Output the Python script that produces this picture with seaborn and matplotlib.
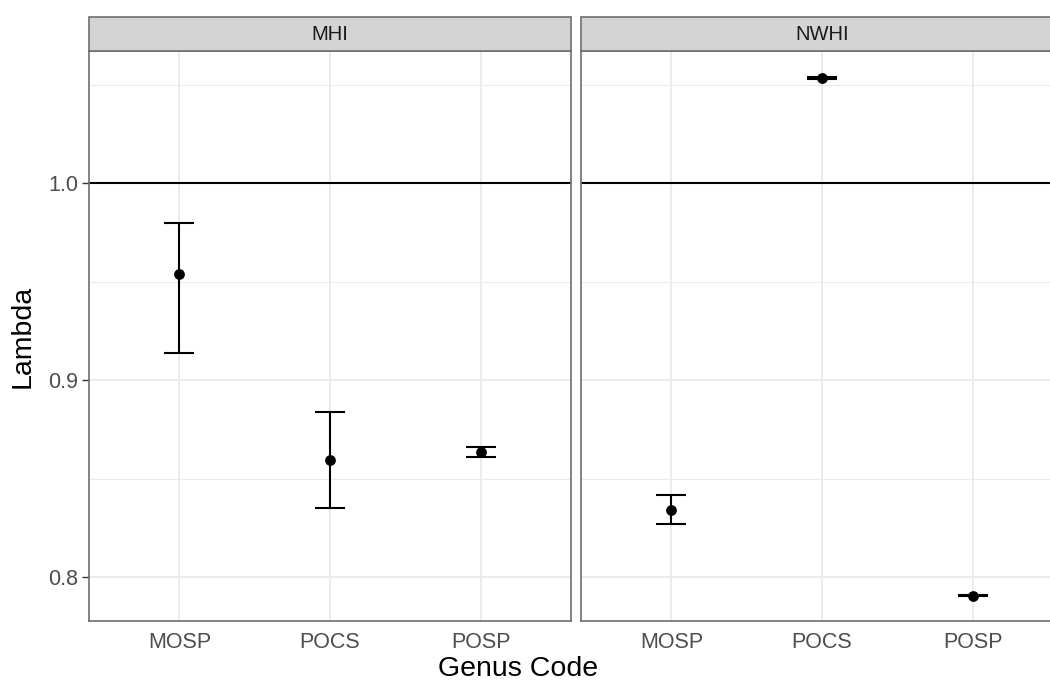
import numpy as np
import pandas as pd
import matplotlib
matplotlib.use("Agg")
import matplotlib.pyplot as plt
from matplotlib.patches import Rectangle
from matplotlib.ticker import MultipleLocator
import seaborn as sns

# ---- data ----
regions = ["MHI", "MHI", "MHI", "NWHI", "NWHI", "NWHI"]
genus = ["MOSP", "POCS", "POSP", "MOSP", "POCS", "POSP"]
lam = [0.9538, 0.8597, 0.8636, 0.8344, 1.0534, 0.7907]
lower = [0.9137, 0.8353, 0.8611, 0.8273, 1.0530, 0.7905]
upper = [0.9800, 0.8838, 0.8661, 0.8417, 1.0538, 0.7909]
categories = ["MOSP", "POCS", "POSP"]
panels = ["MHI", "NWHI"]

df = pd.DataFrame({"Region": regions, "Genus": genus, "Lambda": lam,
                   "lo": lower, "hi": upper})

sns.set_theme(style="white")
plt.rcParams["font.family"] = ["Liberation Sans", "DejaVu Sans"]

W, H = 1050, 681
fig = plt.figure(figsize=(W / 100, H / 100), dpi=100)

pw = 482
lefts = [89, 581]
top, bottom = 51, 621
border = "#6E6E6E"
for i, reg in enumerate(panels):
    ax = fig.add_axes([lefts[i] / W, (H - bottom) / H, pw / W, (bottom - top) / H])
    sub = df[df["Region"] == reg].copy()
    sub["Genus"] = pd.Categorical(sub["Genus"], categories=categories)
    sub = sub.sort_values("Genus")
    xs = np.arange(len(categories))
    ax.set_xlim(-0.6, len(categories) - 0.4)
    ax.set_ylim(0.7778, 1.0672)
    ax.yaxis.set_major_locator(MultipleLocator(0.1))
    ax.yaxis.set_minor_locator(MultipleLocator(0.05))
    ax.set_axisbelow(True)
    ax.grid(which="major", axis="both", color="#EBEBEB", lw=1.4)
    ax.grid(which="minor", axis="y", color="#EBEBEB", lw=0.8)
    ax.axhline(1.0, color="black", lw=1.5, zorder=2)
    ax.errorbar(xs, sub["Lambda"].values,
                yerr=[sub["Lambda"].values - sub["lo"].values,
                      sub["hi"].values - sub["Lambda"].values],
                fmt="none", ecolor="black", elinewidth=1.5, capsize=11,
                capthick=1.5, zorder=3)
    sns.scatterplot(x=xs, y=sub["Lambda"].values, ax=ax, color="black",
                    s=60, edgecolor="black", linewidth=0, zorder=4)
    ax.set_xticks(xs)
    ax.set_xticklabels(categories)
    ax.tick_params(axis="x", which="major", length=5, width=1, color="#333333",
                   labelsize=15.5, labelcolor="#4D4D4D", pad=3)
    ax.tick_params(axis="y", which="major", length=5, width=1, color="#333333",
                   labelsize=15.5, labelcolor="#4D4D4D", pad=3,
                   left=(i == 0), labelleft=(i == 0))
    ax.tick_params(axis="y", which="minor", length=0)
    ax.set_yticks([0.8, 0.9, 1.0])
    ax.set_yticklabels(["0.8", "0.9", "1.0"])
    for sp in ax.spines.values():
        sp.set_color(border)
        sp.set_linewidth(1.2)
    ax.set_xlabel("")
    ax.set_ylabel("")
    strip_h = (top - 17) / (bottom - top)
    ax.add_patch(Rectangle((0, 1), 1, strip_h, transform=ax.transAxes,
                           facecolor="#D4D4D4", edgecolor=border, lw=1.2,
                           clip_on=False, zorder=5))
    ax.text(0.5, 1 + strip_h / 2, reg, transform=ax.transAxes, ha="center",
            va="center", fontsize=14.5, color="#1A1A1A", zorder=6)

fig.text(23 / W, (H - 336) / H, "Lambda", rotation=90, ha="center", va="center",
         fontsize=20.5, color="black")
fig.text(518 / W, (H - 676) / H, "Genus Code", ha="center", va="baseline",
         fontsize=20.5, color="black")

fig.savefig("out.png", dpi=100)
